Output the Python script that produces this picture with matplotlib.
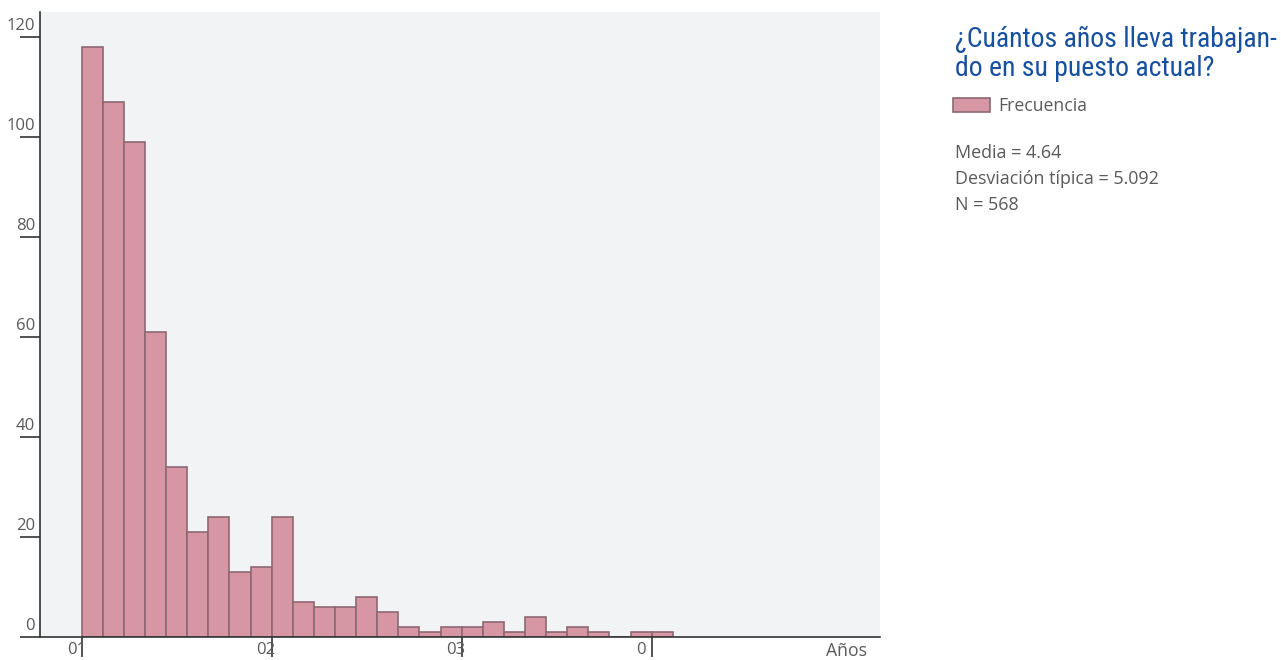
import matplotlib
matplotlib.use("Agg")
import matplotlib.pyplot as plt
import numpy as np

# histogram data (frecuencia por intervalo)
counts = [118, 107, 99, 61, 34, 21, 24, 13, 14, 24,
          7, 6, 6, 8, 5, 2, 1, 2, 2, 3,
          1, 4, 1, 2, 1, 0, 1, 1]
bin_width = 10 / 9
y_ticks = [0, 20, 40, 60, 80, 100, 120]
x_ticks = [0, 10, 20, 30]
x_tick_labels = ["01", "02", "03", "0"]

title_lines = ["¿Cuántos años lleva trabajan-", "do en su puesto actual?"]
legend_label = "Frecuencia"
stats = ["Media = 4.64", "Desviación típica = 5.092", "N = 568"]

bar_color = "#d796a3"
edge_color = "#8c6873"
bg_color = "#f2f3f5"
text_color = "#5a5a5a"
title_color = "#17509e"
font = ["Open Sans", "DejaVu Sans"]

W, H = 1281, 660
fig = plt.figure(figsize=(W / 100, H / 100), dpi=100)
ax = fig.add_axes([40 / W, 23 / H, 840 / W, 625 / H])
ax.set_facecolor(bg_color)

left_edges = np.arange(len(counts)) * bin_width
ax.bar(left_edges, counts, width=bin_width, align="edge",
       color=bar_color, edgecolor=edge_color, linewidth=1.2)

ax.set_xlim(-41.7 / 19, (880 - 81.7) / 19)
ax.set_ylim(0, 125)

for s in ["top", "right"]:
    ax.spines[s].set_visible(False)
ax.spines["left"].set_color("#333333")
ax.spines["bottom"].set_color("#333333")
ax.spines["left"].set_linewidth(1.2)
ax.spines["bottom"].set_linewidth(1.2)

ax.set_yticks(y_ticks)
ax.set_xticks(x_ticks)
ax.set_yticklabels([])
ax.set_xticklabels([])
ax.tick_params(axis="y", length=14.4, width=1.2, color="#333333")
ax.tick_params(axis="x", length=14.4, width=1.2, color="#333333")

for v in y_ticks:
    ax.annotate(str(v), xy=(0, v), xycoords=("axes fraction", "data"),
                xytext=(-3.5, 2), textcoords="offset points",
                ha="right", va="bottom", fontsize=12, color=text_color,
                family=font)

for v, lab in zip(x_ticks, x_tick_labels):
    dx = -8 if lab == "0" else -4
    ax.annotate(lab, xy=(v, 0), xycoords=("data", "axes fraction"),
                xytext=(dx, -9), textcoords="offset points",
                ha="center", va="center", fontsize=12, color=text_color,
                family=font)

ax.annotate("Años", xy=(1, 0), xycoords="axes fraction",
            xytext=(-9, -10), textcoords="offset points",
            ha="right", va="center", fontsize=12.7, color=text_color,
            family=font)

# title on the right, first line fitted to width
title_font = ["Roboto Condensed", "Liberation Sans Narrow", "DejaVu Sans"]
baselines = [47, 76]
texts = []
for line, yb in zip(title_lines, baselines):
    texts.append(fig.text(955 / W, 1 - yb / H, line, ha="left",
                          va="baseline", fontsize=24, fontweight="normal",
                          color=title_color, family=title_font,
                          fontstretch="condensed"))
fig.canvas.draw()
wpx = texts[0].get_window_extent().width
for t in texts:
    t.set_fontsize(24 * 323 / wpx)

# legend patch
fig.patches.append(plt.Rectangle((953 / W, 1 - 112 / H), 37 / W, 14 / H,
                                 transform=fig.transFigure,
                                 facecolor=bar_color, edgecolor=edge_color,
                                 linewidth=1.2))
fig.text(998 / W, 1 - 106 / H, legend_label, ha="left", va="center",
         fontsize=12.7, color=text_color, family=font)

for i, s in enumerate(stats):
    fig.text(955 / W, 1 - (153 + 26 * i) / H, s, ha="left", va="center",
             fontsize=12.9, color=text_color, family=font)

fig.savefig("out.png", dpi=100)
